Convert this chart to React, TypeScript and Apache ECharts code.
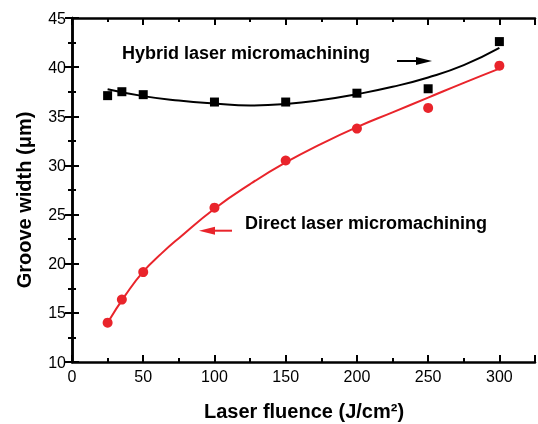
import React, { useEffect, useRef } from "react";
import * as echarts from "echarts";

const xValues = [25, 35, 50, 100, 150, 200, 250, 300];
const hybridValues = [37.1, 37.5, 37.2, 36.45, 36.45, 37.35, 37.8, 42.6];
const directValues = [14.0, 16.35, 19.15, 25.7, 30.5, 33.75, 35.85, 40.15];

const hybridFitX = [25, 50, 75, 100, 125, 150, 175, 200, 225, 250, 275, 300];
const hybridFitY = [37.75, 37.05, 36.6, 36.3, 36.1, 36.25, 36.65, 37.25, 38.0, 38.95, 40.2, 41.95];
const directFitX = [25, 37.5, 50, 62.5, 75, 100, 125, 150, 175, 200, 225, 250, 275, 300];
const directFitY = [14.0, 16.8, 19.2, 21.0, 22.6, 25.6, 28.1, 30.3, 32.2, 33.9, 35.4, 36.9, 38.4, 39.85];

const xTickLabels = ["0", "50", "100", "150", "200", "250", "300"];
const yTickLabels = ["10", "15", "20", "25", "30", "35", "40", "45"];

const RED = "#e9242b";
const FONT = "'Liberation Sans', Arial, sans-serif";

export default function App() {
  const ref = useRef<HTMLDivElement>(null);
  useEffect(() => {
    if (!ref.current) return;
    const chart = echarts.init(ref.current, null, { renderer: "svg" });
    const axisCommon = {
      axisLine: { show: true, lineStyle: { color: "#000", width: 2.5 } },
      axisTick: { show: true, inside: true, length: 7, lineStyle: { color: "#000", width: 2 } },
      minorTick: { show: true, splitNumber: 2, length: 4, lineStyle: { color: "#000", width: 2 } },
      splitLine: { show: false },
    };
    const xLabel = (v: number) => (xTickLabels.includes(String(v)) ? String(v) : "");
    const yLabel = (v: number) => (yTickLabels.includes(String(v)) ? String(v) : "");
    chart.setOption({
      animation: false,
      grid: { left: 72, right: 3, top: 18, bottom: 62 },
      xAxis: [
        {
          type: "value", min: 0, max: 325, interval: 50, position: "bottom",
          ...axisCommon,
          axisLabel: { formatter: xLabel, color: "#000", fontSize: 16, fontFamily: FONT, margin: 6, showMaxLabel: false },
        },
        {
          type: "value", min: 0, max: 325, interval: 50, position: "top",
          ...axisCommon,
          axisLabel: { show: false },
        },
      ],
      yAxis: [
        {
          type: "value", min: 10, max: 45, interval: 5, position: "left",
          ...axisCommon,
          axisLabel: { formatter: yLabel, color: "#000", fontSize: 16, fontFamily: FONT, margin: 6 },
        },
        {
          type: "value", min: 10, max: 45, interval: 5, position: "right",
          ...axisCommon,
          axisLabel: { show: false },
        },
      ],
      series: [
        {
          type: "line", smooth: 0.5, showSymbol: false, z: 2,
          data: hybridFitX.map((x, i) => [x, hybridFitY[i]]),
          lineStyle: { color: "#000", width: 2 },
        },
        {
          type: "line", smooth: 0.5, showSymbol: false, z: 2,
          data: directFitX.map((x, i) => [x, directFitY[i]]),
          lineStyle: { color: RED, width: 2 },
        },
        {
          type: "scatter", symbol: "rect", symbolSize: 9, z: 3,
          data: xValues.map((x, i) => [x, hybridValues[i]]),
          itemStyle: { color: "#000", opacity: 1 },
        },
        {
          type: "scatter", symbol: "circle", symbolSize: 10, z: 3,
          data: xValues.map((x, i) => [x, directValues[i]]),
          itemStyle: { color: RED, opacity: 1 },
        },
      ],
      graphic: [
        {
          type: "text", left: 122, top: 44,
          style: { text: "Hybrid laser micromachining", font: `bold 18px ${FONT}`, fill: "#000" },
        },
        {
          type: "text", left: 245, top: 214,
          style: { text: "Direct laser micromachining", font: `bold 18px ${FONT}`, fill: "#000" },
        },
        {
          type: "text", x: 24, y: 200, rotation: Math.PI / 2,
          style: { text: "Groove width (μm)", font: `bold 20px ${FONT}`, fill: "#000", align: "center", verticalAlign: "middle" },
        },
        {
          type: "text", x: 304, y: 411,
          style: { text: "Laser fluence (J/cm²)", font: `bold 20px ${FONT}`, fill: "#000", align: "center", verticalAlign: "middle" },
        },
        {
          type: "line",
          shape: { x1: 397, y1: 61, x2: 418, y2: 61 },
          style: { stroke: "#000", lineWidth: 2 },
        },
        {
          type: "polygon",
          shape: { points: [[432, 61], [416, 57], [416, 65]] },
          style: { fill: "#000" },
        },
        {
          type: "line",
          shape: { x1: 232, y1: 230.7, x2: 212, y2: 230.7 },
          style: { stroke: RED, lineWidth: 2 },
        },
        {
          type: "polygon",
          shape: { points: [[199, 230.7], [215, 226.7], [215, 234.7]] },
          style: { fill: RED },
        },
      ],
    });
    return () => chart.dispose();
  }, []);
  return <div ref={ref} style={{ position: "fixed", left: 0, top: 0, width: 538, height: 424 }} />;
}
